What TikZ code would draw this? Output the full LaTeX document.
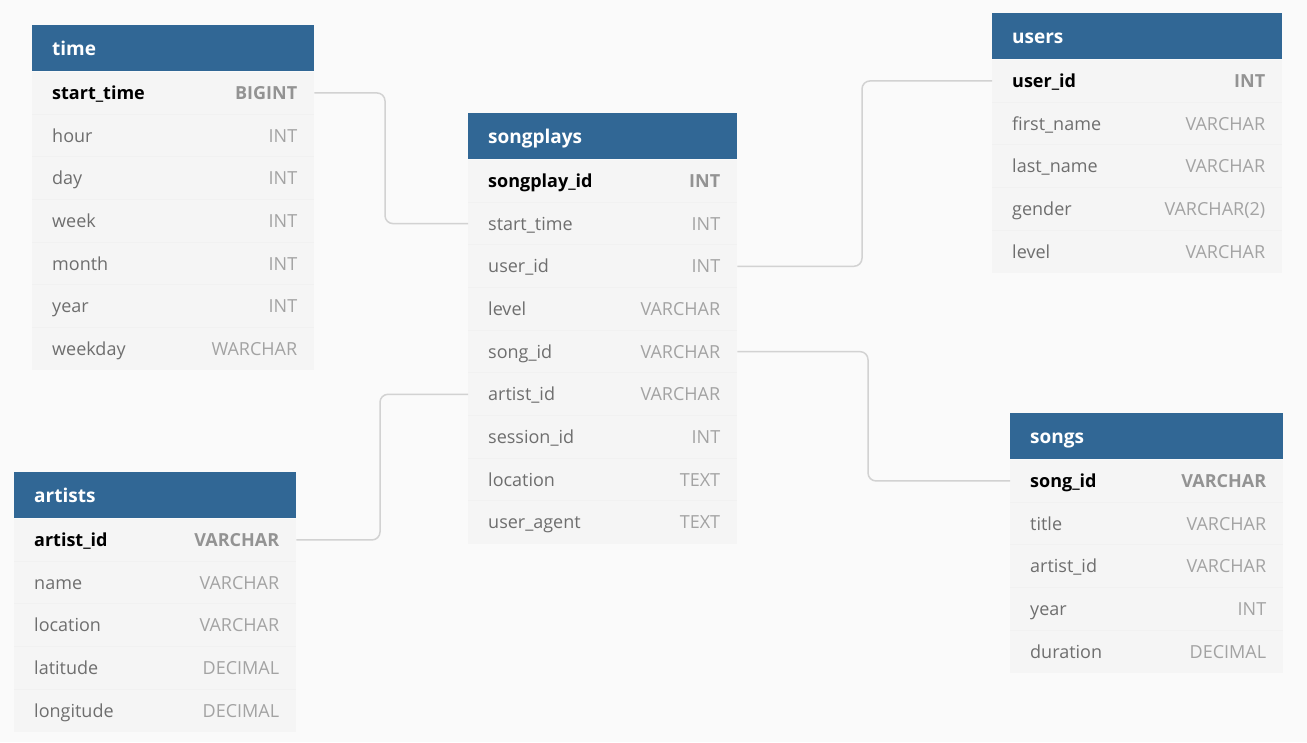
\documentclass[tikz,border=0pt]{standalone}
\usepackage{fontspec}
\setmainfont{Open Sans}
\usetikzlibrary{calc}
\usepackage{xcolor}

\definecolor{headblue}{HTML}{316795}
\definecolor{rowbg}{HTML}{F5F5F5}
\definecolor{rowline}{HTML}{F1F1F1}
\definecolor{pagebg}{HTML}{FAFAFA}
\definecolor{namegray}{HTML}{6E6E6E}
\definecolor{typegray}{HTML}{A3A3A3}
\definecolor{linkgray}{HTML}{D2D2D2}

\tikzset{
  tablehead/.style={fill=headblue, minimum height=46pt, inner sep=0pt, anchor=north west},
  tabletitle/.style={text=white, font=\fontsize{19}{22}\selectfont\bfseries, anchor=west, inner sep=0pt, text height=17pt, text depth=2pt},
  tablerow/.style={fill=rowbg, minimum height=42.67pt, inner sep=0pt, anchor=north west},
  fieldname/.style={text=namegray, font=\fontsize{18}{21}\selectfont, anchor=west, inner sep=0pt, text height=15pt, text depth=2pt},
  fieldtype/.style={text=typegray, font=\fontsize{18}{21}\selectfont, anchor=east, inner sep=0pt, text height=15pt, text depth=2pt},
  keyname/.style={fieldname, text=black, font=\fontsize{18}{21}\selectfont\bfseries},
  keytype/.style={fieldtype, text=typegray!90!black, font=\fontsize{18}{21}\selectfont\bfseries},
  link/.style={draw=linkgray, line width=1.5pt, rounded corners=8pt},
}

% \dbtable{id}{left}{top}{width}{title}{name/type,...}
\newcommand{\dbtable}[6]{%
  \node[tablehead, minimum width=#4] (#1) at (#2,#3) {};
  \node[tabletitle] (#1-title) at ($(#1.west)+(20,0)$) {#5};
  \foreach [count=\i] \fname/\ftype in {#6}{
    \node[tablerow, minimum width=#4] (#1-\i) at ($(#1.south west)+(0,{(\i-1)*42.67})$) {};
    \ifnum\i>1
      \draw[rowline, line width=0.8pt] (#1-\i.north west) -- (#1-\i.north east);
      \node[fieldname] (#1-\i-n) at ($(#1-\i.west)+(20,0)$) {\fname};
      \node[fieldtype] (#1-\i-t) at ($(#1-\i.east)+(-17,0)$) {\ftype};
    \else
      \node[keyname] (#1-\i-n) at ($(#1-\i.west)+(20,0)$) {\fname};
      \node[keytype] (#1-\i-t) at ($(#1-\i.east)+(-17,0)$) {\ftype};
    \fi
  }
}

\begin{document}
\begin{tikzpicture}[x=1pt, y=-1pt]
  \fill[pagebg] (0,0) rectangle (1307,742);
  \useasboundingbox (0,0) rectangle (1307,742);

  % tables
  \dbtable{time}{32}{25}{282pt}{time}{start\_time/BIGINT, hour/INT, day/INT, week/INT, month/INT, year/INT, weekday/WARCHAR}
  \dbtable{songplays}{468}{113}{269pt}{songplays}{songplay\_id/INT, start\_time/INT, user\_id/INT, level/VARCHAR, song\_id/VARCHAR, artist\_id/VARCHAR, session\_id/INT, location/TEXT, user\_agent/TEXT}
  \dbtable{users}{992}{13}{290pt}{users}{user\_id/INT, first\_name/VARCHAR, last\_name/VARCHAR, gender/VARCHAR(2), level/VARCHAR}
  \dbtable{artists}{14}{472}{282pt}{artists}{artist\_id/VARCHAR, name/VARCHAR, location/VARCHAR, latitude/DECIMAL, longitude/DECIMAL}
  \dbtable{songs}{1010}{413}{273pt}{songs}{song\_id/VARCHAR, title/VARCHAR, artist\_id/VARCHAR, year/INT, duration/DECIMAL}

  % relations
  \draw[link] (time-1.east) -| (385,160) |- (songplays-2.west);
  \draw[link] (songplays-3.east) -| (862,160) |- (users-1.west);
  \draw[link] (songplays-5.east) -| (868,420) |- (songs-1.west);
  \draw[link] (artists-1.east) -| (380,470) |- (songplays-6.west);
\end{tikzpicture}
\end{document}
